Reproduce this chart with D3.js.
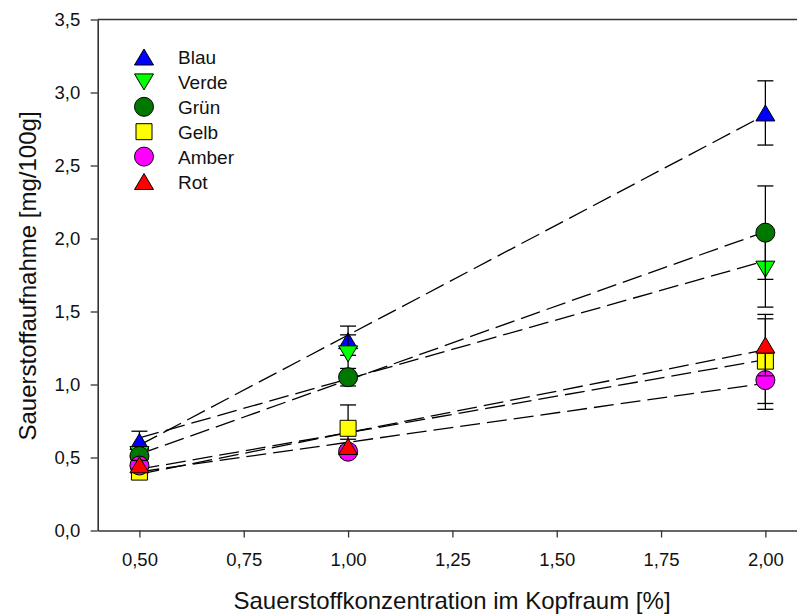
<!DOCTYPE html>
<html>
<head>
<meta charset="utf-8">
<script src="https://cdn.jsdelivr.net/npm/d3@7"></script>
<style>
  html, body { margin: 0; padding: 0; background: #fff; }
  svg { display: block; font-family: "Liberation Sans", Arial, sans-serif; }
</style>
</head>
<body>
<svg id="chart" width="797" height="614"></svg>
<script>
// ---- data ----
const xValues = [0.5, 1.0, 2.0];
const seriesNames = ["Blau", "Verde", "Grün", "Gelb", "Amber", "Rot"];
const blauMean  = [0.61, 1.30, 2.86];
const blauSd    = [0.07, 0.10, 0.22];
const verdeMean = [0.52, 1.21, 1.79];
const verdeSd   = [0.05, 0.13, 0.26];
const gruenMean = [0.51, 1.05, 2.04];
const gruenSd   = [0.04, 0.06, 0.32];
const gelbMean  = [0.40, 0.70, 1.16];
const gelbSd    = [0.03, 0.16, 0.29];
const amberMean = [0.445, 0.54, 1.03];
const amberSd   = [0.03, 0.04, 0.20];
const rotMean   = [0.45, 0.575, 1.27];
const rotSd     = [0.03, 0.05, 0.21];
const xTicks = [0.5, 0.75, 1.0, 1.25, 1.5, 1.75, 2.0];
const yTicks = [0, 0.5, 1.0, 1.5, 2.0, 2.5, 3.0, 3.5];
const xTitle = "Sauerstoffkonzentration im Kopfraum [%]";
const yTitle = "Sauerstoffaufnahme [mg/100g]";

const series = [
  {name: "Blau",  mean: blauMean,  sd: blauSd,  color: "#0000ff", shape: "up"},
  {name: "Verde", mean: verdeMean, sd: verdeSd, color: "#00ff00", shape: "down"},
  {name: "Grün",  mean: gruenMean, sd: gruenSd, color: "#007800", shape: "circle"},
  {name: "Gelb",  mean: gelbMean,  sd: gelbSd,  color: "#ffff00", shape: "square"},
  {name: "Amber", mean: amberMean, sd: amberSd, color: "#ff00ff", shape: "circle"},
  {name: "Rot",   mean: rotMean,   sd: rotSd,   color: "#ff0000", shape: "up"}
];

// ---- layout ----
const svg = d3.select("#chart");
const x = d3.scaleLinear().domain([0.4, 2.1]).range([97.7, 97.7 + 1.7 * 417.3]);
const y = d3.scaleLinear().domain([0, 3.5]).range([530.5, 19.5]);
const loc = d3.formatLocale({decimal: ",", thousands: ".", grouping: [3], currency: ["", "€"]});
const fx = loc.format(".2f"), fy = loc.format(".1f");
const axisColor = "#333";

// frame top line
svg.append("line").attr("x1", x(0.4)).attr("x2", x(2.1)).attr("y1", y(3.5)).attr("y2", y(3.5))
  .attr("stroke", axisColor).attr("stroke-width", 1.6);

const gx = svg.append("g").attr("transform", `translate(0,${y(0)})`)
  .call(d3.axisBottom(x).tickValues(xTicks).tickFormat(fx).tickSize(7).tickPadding(15).tickSizeOuter(0));
const gy = svg.append("g").attr("transform", `translate(${x(0.4)},0)`)
  .call(d3.axisLeft(y).tickValues(yTicks).tickFormat(fy).tickSize(7).tickPadding(10.5).tickSizeOuter(0));
[gx, gy].forEach(g => {
  g.select(".domain").attr("stroke", axisColor).attr("stroke-width", 1.6);
  g.selectAll(".tick line").attr("stroke", axisColor).attr("stroke-width", 1.3);
  g.selectAll(".tick text").attr("font-size", 18.5).attr("fill", "#111")
    .attr("font-family", "'Liberation Sans', Arial, sans-serif");
});

// titles
svg.append("text").attr("x", 452).attr("y", 609).attr("text-anchor", "middle")
  .attr("font-size", 24).attr("fill", "#111").text(xTitle);
svg.append("text").attr("transform", `translate(36,276) rotate(-90)`).attr("text-anchor", "middle")
  .attr("font-size", 24).attr("fill", "#111").text(yTitle);

// ---- shapes ----
function shapePath(shape) {
  const w = 19, h = 16, s = 16, r = 9.5;
  if (shape === "up") return `M0,${-h/2}L${w/2},${h/2}L${-w/2},${h/2}Z`;
  if (shape === "down") return `M0,${h/2}L${w/2},${-h/2}L${-w/2},${-h/2}Z`;
  if (shape === "square") return `M${-s/2},${-s/2}h${s}v${s}h${-s}Z`;
  return d3.symbol(d3.symbolCircle, Math.PI * r * r)();
}

// ---- regression lines ----
const linesG = svg.append("g");
series.forEach(s => {
  const mx = d3.mean(xValues), my = d3.mean(s.mean);
  const sxy = d3.sum(xValues, (xv, i) => (xv - mx) * (s.mean[i] - my));
  const sxx = d3.sum(xValues, xv => (xv - mx) ** 2);
  const b = sxy / sxx, a = my - b * mx;
  const x0 = d3.min(xValues), x1 = d3.max(xValues);
  linesG.append("line")
    .attr("x1", x(x0)).attr("y1", y(a + b * x0))
    .attr("x2", x(x1)).attr("y2", y(a + b * x1))
    .attr("stroke", "#000").attr("stroke-width", 1.3).attr("stroke-dasharray", "20,7");
});

// ---- error bars + markers ----
series.forEach(s => {
  const g = svg.append("g");
  xValues.forEach((xv, i) => {
    const cx = x(xv), lo = y(s.mean[i] - s.sd[i]), hi = y(s.mean[i] + s.sd[i]);
    g.append("line").attr("x1", cx).attr("x2", cx).attr("y1", lo).attr("y2", hi)
      .attr("stroke", "#000").attr("stroke-width", 1.3);
    [lo, hi].forEach(yy => g.append("line").attr("x1", cx - 8).attr("x2", cx + 8)
      .attr("y1", yy).attr("y2", yy).attr("stroke", "#000").attr("stroke-width", 1.3));
  });
  xValues.forEach((xv, i) => {
    g.append("path").attr("d", shapePath(s.shape))
      .attr("transform", `translate(${x(xv)},${y(s.mean[i])})`)
      .attr("fill", s.color).attr("stroke", "#000").attr("stroke-width", 1);
  });
});

// ---- legend ----
const leg = svg.append("g");
series.forEach((s, i) => {
  const cy = 57 + i * 24.9;
  leg.append("path").attr("d", shapePath(s.shape)).attr("transform", `translate(144,${cy})`)
    .attr("fill", s.color).attr("stroke", "#000").attr("stroke-width", 1);
  leg.append("text").attr("x", 178).attr("y", cy + 7).attr("font-size", 19).attr("fill", "#111").text(s.name);
});
</script>
</body>
</html>
